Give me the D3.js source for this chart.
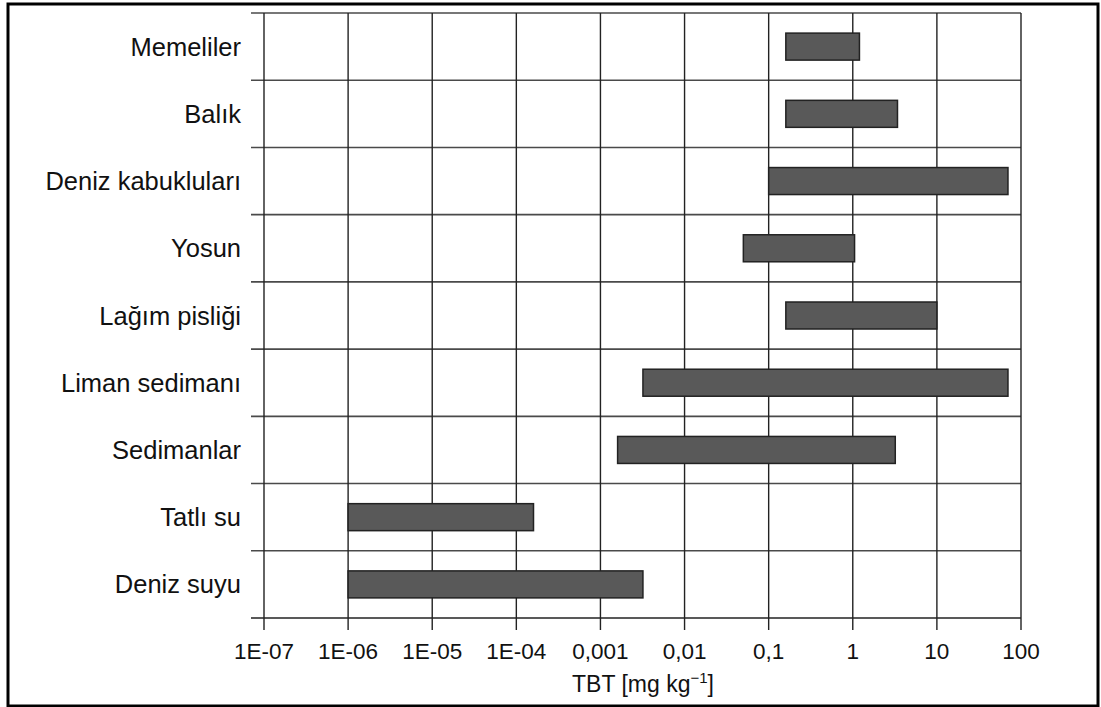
<!DOCTYPE html>
<html>
<head>
<meta charset="utf-8">
<script src="https://cdn.jsdelivr.net/npm/d3@7"></script>
<style>
  html, body { margin: 0; padding: 0; background: #fff; }
  svg { display: block; font-family: "Liberation Sans", Arial, sans-serif; }
</style>
</head>
<body>
<svg id="chart" width="1101" height="707"></svg>
<script>
const categories = ["Memeliler", "Balık", "Deniz kabukluları", "Yosun", "Lağım pisliği",
                    "Liman sedimanı", "Sedimanlar", "Tatlı su", "Deniz suyu"];
const minValues = [0.16, 0.16, 0.1, 0.05, 0.16, 0.0032, 0.0016, 1e-6, 1e-6];
const maxValues = [1.2, 3.4, 70, 1.05, 10, 70, 3.2, 1.6e-4, 0.0032];
const tickValues = [1e-7, 1e-6, 1e-5, 1e-4, 1e-3, 1e-2, 1e-1, 1, 10, 100];
const tickLabels = ["1E-07", "1E-06", "1E-05", "1E-04", "0,001", "0,01", "0,1", "1", "10", "100"];

const svg = d3.select("#chart");

// outer frame
svg.append("rect")
  .attr("x", 8).attr("y", 4).attr("width", 1090).attr("height", 702)
  .attr("fill", "none").attr("stroke", "#000").attr("stroke-width", 3);

const x = d3.scaleLog().domain([1e-7, 100]).range([264, 1021]);
const y = d3.scaleBand().domain(categories).range([13, 618]).padding(0);

const gridLeft = 251, gridRight = 1021, axisY = 618, tickBottom = 630;

// horizontal grid lines (row boundaries)
const boundaries = categories.map(c => y(c));
svg.append("g").selectAll("line").data(boundaries).join("line")
  .attr("x1", gridLeft).attr("x2", gridRight)
  .attr("y1", d => d).attr("y2", d => d)
  .attr("stroke", "#4a4a4a").attr("stroke-width", 1.6);

// vertical grid lines + ticks
svg.append("g").selectAll("line").data(tickValues).join("line")
  .attr("x1", d => x(d)).attr("x2", d => x(d))
  .attr("y1", 13).attr("y2", tickBottom)
  .attr("stroke", "#222").attr("stroke-width", 1.4);

// x axis line
svg.append("line")
  .attr("x1", gridLeft).attr("x2", gridRight)
  .attr("y1", axisY).attr("y2", axisY)
  .attr("stroke", "#222").attr("stroke-width", 1.6);

// tick labels
svg.append("g").selectAll("text").data(tickValues).join("text")
  .attr("x", d => x(d)).attr("y", 659)
  .attr("text-anchor", "middle")
  .attr("font-size", 22.5).attr("fill", "#111")
  .text((d, i) => tickLabels[i]);

// axis title
const title = svg.append("text")
  .attr("x", 643).attr("y", 692)
  .attr("text-anchor", "middle")
  .attr("font-size", 23).attr("fill", "#111");
title.append("tspan").text("TBT [mg kg");
title.append("tspan").attr("font-size", 15).attr("dy", -9).text("\u22121");
title.append("tspan").attr("dy", 9).text("]");

// category labels
svg.append("g").selectAll("text").data(categories).join("text")
  .attr("x", 241).attr("y", d => y(d) + y.bandwidth() / 2 + 9)
  .attr("text-anchor", "end")
  .attr("font-size", 25.5).attr("fill", "#111")
  .text(d => d);

// bars
const barH = 27;
svg.append("g").selectAll("rect").data(categories).join("rect")
  .attr("x", (d, i) => x(minValues[i]))
  .attr("width", (d, i) => x(maxValues[i]) - x(minValues[i]))
  .attr("y", d => y(d) + y.bandwidth() / 2 - barH / 2)
  .attr("height", barH)
  .attr("fill", "#595959").attr("stroke", "#222").attr("stroke-width", 1.5);
</script>
</body>
</html>
